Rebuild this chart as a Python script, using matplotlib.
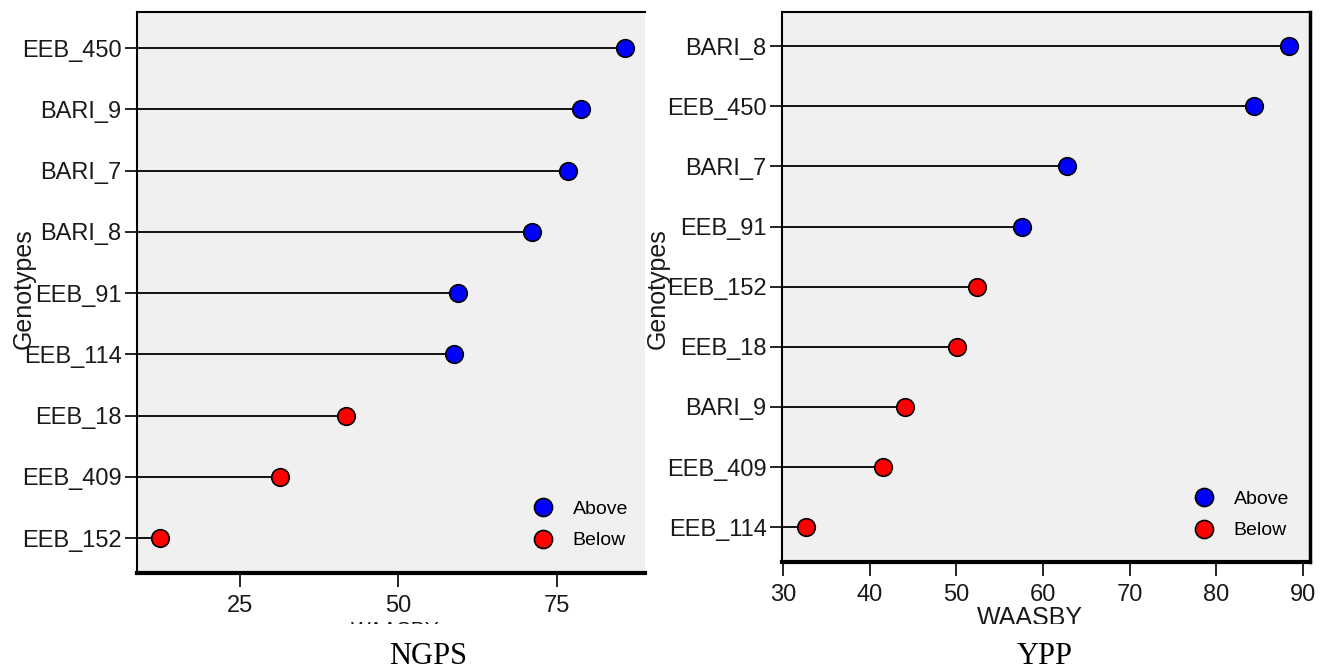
import matplotlib
matplotlib.use("Agg")
import matplotlib.pyplot as plt
from matplotlib.patches import Rectangle
from matplotlib.lines import Line2D
from matplotlib import font_manager

names = {f.name for f in font_manager.fontManager.ttflist}
NARROW = "Liberation Sans Narrow" if "Liberation Sans Narrow" in names else "Liberation Sans"
LBL_SIZE = 19 if NARROW == "Liberation Sans Narrow" else 17

# NGPS panel (top to bottom)
ngps_genotypes = ["EEB_450", "BARI_9", "BARI_7", "BARI_8", "EEB_91", "EEB_114", "EEB_18", "EEB_409", "EEB_152"]
ngps_waasby = [85.7, 78.8, 76.8, 71.0, 59.4, 58.8, 41.7, 31.3, 12.4]
ngps_group = ["Above", "Above", "Above", "Above", "Above", "Above", "Below", "Below", "Below"]
ngps_ticks = [25, 50, 75]

# YPP panel (top to bottom)
ypp_genotypes = ["BARI_8", "EEB_450", "BARI_7", "EEB_91", "EEB_152", "EEB_18", "BARI_9", "EEB_409", "EEB_114"]
ypp_waasby = [88.4, 84.3, 62.8, 57.6, 52.4, 50.1, 44.1, 41.5, 32.7]
ypp_group = ["Above", "Above", "Above", "Above", "Below", "Below", "Below", "Below", "Below"]
ypp_ticks = [30, 40, 50, 60, 70, 80, 90]

colors = {"Above": "#0000FF", "Below": "#FF0000"}

W, H = 1331, 672
fig = plt.figure(figsize=(W / 100, H / 100), dpi=100)


def px(x0, y0, x1, y1):
    return [x0 / W, 1 - y1 / H, (x1 - x0) / W, (y1 - y0) / H]


def panel(rect, genotypes, values, groups, ticks, xlim, ylim, right_spine,
          leg_xy, ylabel_x, title_x, xlabel_y, xlabel_size):
    ax = fig.add_axes(rect)
    ax.set_facecolor("#F0F0F0")
    n = len(genotypes)
    ypos = list(range(n, 0, -1))
    for y, v in zip(ypos, values):
        ax.plot([xlim[0] - 20, v], [y, y], color="black", lw=1.3, zorder=2, clip_on=True)
    for y, v, g in zip(ypos, values, groups):
        ax.scatter([v], [y], s=160, color=colors[g], edgecolors="black", linewidths=1.2, zorder=3)
    ax.set_xlim(*xlim)
    ax.set_ylim(*ylim)
    ax.set_yticks(ypos)
    ax.set_yticklabels(genotypes, fontsize=LBL_SIZE, family=NARROW, color="#1a1a1a")
    ax.set_xticks(ticks)
    ax.set_xticklabels([str(t) for t in ticks], fontsize=LBL_SIZE, family=NARROW, color="#1a1a1a")
    ax.tick_params(axis="y", length=9, width=1.2, pad=2)
    ax.tick_params(axis="x", length=10, width=1.2, pad=6)
    for s in ["left", "top"]:
        ax.spines[s].set_linewidth(1.5)
    ax.spines["bottom"].set_linewidth(3)
    if right_spine:
        ax.spines["right"].set_linewidth(2.5)
    else:
        ax.spines["right"].set_visible(False)
    handles = [Line2D([], [], marker="o", linestyle="none", markersize=13,
                      markerfacecolor=colors[k], markeredgecolor="black", markeredgewidth=1.2)
               for k in ["Above", "Below"]]
    ax.legend(handles, ["Above", "Below"], loc="center", bbox_to_anchor=leg_xy,
              bbox_transform=fig.transFigure, frameon=False,
              prop={"family": NARROW, "size": 14}, handletextpad=0.5, labelspacing=0.7)
    fig.text(ylabel_x, 0.57, "Genotypes", rotation=90, ha="center", va="center",
             fontsize=18, family="Liberation Sans", color="#1a1a1a")
    fig.text(title_x, 1 - xlabel_y / H, "WAASBY", ha="center", va="top", fontsize=xlabel_size,
             family="Liberation Sans", color="#1a1a1a")
    return ax


panel(px(137, 12, 645, 573), ngps_genotypes, ngps_waasby, ngps_group, ngps_ticks,
      (8.75, 88.9), (0.43, 9.59), False, (576 / W, 1 - 525 / H), 24 / W,
      395 / W, 621, 15)
panel(px(782, 12, 1310, 562), ypp_genotypes, ypp_waasby, ypp_group, ypp_ticks,
      (29.9, 90.8), (0.42, 9.57), True, (1237 / W, 1 - 515 / H), 658 / W,
      1030 / W, 606, 18)

# white cover hiding the lower part of the axis titles (as cropped in the reference)
fig.patches.append(Rectangle((0, 0), 1, 1 - 624 / H, transform=fig.transFigure,
                             facecolor="white", edgecolor="none", zorder=5))

fig.text(428 / W, 1 - 656 / H, "NGPS", ha="center", va="center", fontsize=22,
         family="Liberation Serif", color="black", zorder=6)
fig.text(1045 / W, 1 - 656 / H, "YPP", ha="center", va="center", fontsize=22,
         family="Liberation Serif", color="black", zorder=6)

fig.savefig("out.png", dpi=100, facecolor="white")
